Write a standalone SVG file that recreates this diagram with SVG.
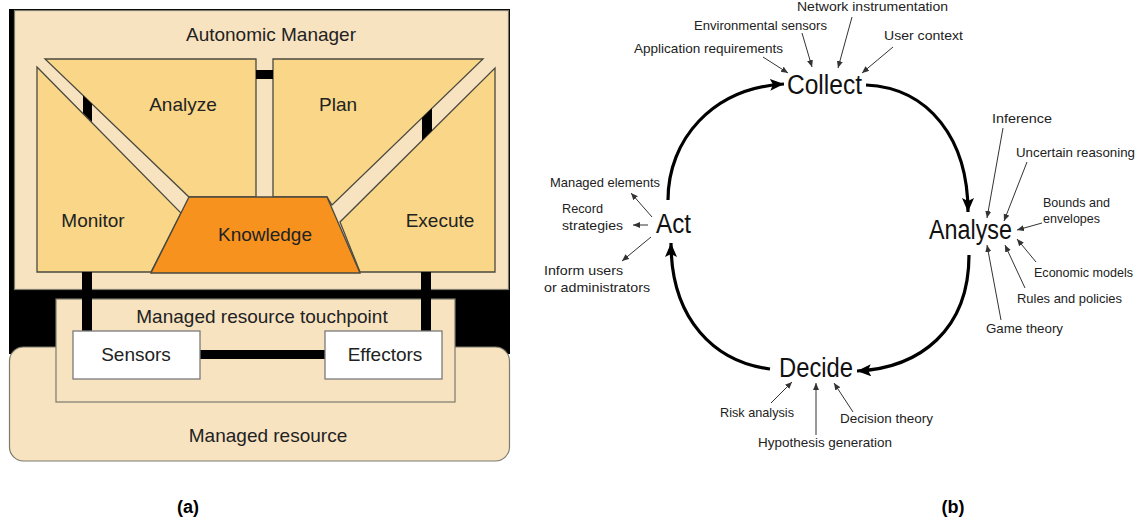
<svg xmlns="http://www.w3.org/2000/svg" width="1141" height="520" viewBox="0 0 1141 520">
  <style>
    .panel { fill: #F8E3C1; stroke: #7a7a6e; stroke-width: 1.2; }
    .block { fill: #F9D688; stroke: #4a4a40; stroke-width: 1.3; }
    .know { fill: #F7921F; stroke: #4a4a40; stroke-width: 1.3; }
    .white { fill: #ffffff; stroke: #7a7a7a; stroke-width: 1.3; }
    .lbl { font-family: "Liberation Sans", Arial, sans-serif; font-size: 19px; fill: #222; text-anchor: middle; }
    .sm { font-family: "Liberation Sans", Arial, sans-serif; font-size: 13px; fill: #222; }
    .big { font-family: "Liberation Sans", Arial, sans-serif; font-size: 27px; fill: #111; }
    .cap { font-family: "Liberation Sans", Arial, sans-serif; font-size: 18px; font-weight: bold; fill: #000; text-anchor: middle; }
    .thin { fill: none; stroke: #333; stroke-width: 1; marker-end: url(#small); }
    .arc { fill: none; stroke: #000; stroke-width: 3.2; marker-end: url(#big); }
  </style>
  <defs>
    <marker id="small" markerUnits="userSpaceOnUse" markerWidth="8" markerHeight="7" refX="7" refY="3" orient="auto">
      <path d="M0,0 L7,3 L0,6 Z" fill="#333"/>
    </marker>
    <marker id="big" markerUnits="userSpaceOnUse" markerWidth="16" markerHeight="13" refX="14" refY="6" orient="auto">
      <path d="M0,0 L14,6 L0,12 L3,6 Z" fill="#000"/>
    </marker>
  </defs>

  <rect width="1141" height="520" fill="#ffffff"/>

  <!-- (a) autonomic manager architecture -->
  <g id="backdrop">
    <rect x="9" y="9" width="501" height="345" fill="#000"/>
  </g>
  <g id="autonomic-manager">
    <rect class="panel" x="14.5" y="10.5" width="494" height="279"/>
    <text class="lbl" x="271" y="41">Autonomic Manager</text>
  </g>
  <g id="monitor">
    <polygon class="block" points="37,67 181,213 151,272 37,272"/>
    <text class="lbl" x="93" y="227">Monitor</text>
  </g>
  <g id="analyze">
    <polygon class="block" points="45,59 256,59 256,197 189,197"/>
    <text class="lbl" x="183" y="111">Analyze</text>
  </g>
  <g id="plan">
    <polygon class="block" points="273,59 483,59 332,205 327,197 273,197"/>
    <text class="lbl" x="338" y="111">Plan</text>
  </g>
  <g id="execute">
    <polygon class="block" points="495,68 495,272 360,272 340,222"/>
    <text class="lbl" x="440" y="227">Execute</text>
  </g>
  <g id="knowledge">
    <polygon class="know" points="189,197 327,197 360,273 151,273"/>
    <text class="lbl" x="265" y="241">Knowledge</text>
  </g>
  <g id="managed-resource">
    <rect class="panel" x="9.5" y="347" width="500" height="114" rx="14" ry="14"/>
    <text class="lbl" x="268" y="442">Managed resource</text>
  </g>
  <g id="touchpoint">
    <rect class="panel" x="56" y="299" width="399" height="103"/>
    <text class="lbl" x="262" y="323">Managed resource touchpoint</text>
  </g>
  <g id="links-a">
    <rect x="256" y="70" width="17" height="9" fill="#000"/>
    <polygon points="83,95.4 92,104 92,122 83,113" fill="#000"/>
    <polygon points="422,118 432,108.3 432,130.6 422,140.5" fill="#000"/>
    <rect x="82" y="272" width="10" height="60" fill="#000"/>
    <rect x="421" y="272" width="10" height="60" fill="#000"/>
    <rect x="199" y="350" width="127" height="9" fill="#000"/>
  </g>
  <g id="sensors">
    <rect class="white" x="73" y="331" width="127" height="48"/>
    <text class="lbl" x="136" y="361">Sensors</text>
  </g>
  <g id="effectors">
    <rect class="white" x="325" y="331" width="117" height="48"/>
    <text class="lbl" x="385" y="361">Effectors</text>
  </g>

  <!-- (b) collect / analyse / decide / act cycle -->
  <g id="cycle-connectors">
    <path class="arc" d="M668,200 C668,140 712,88 784,84"/>
    <path class="arc" d="M866,85 C930,88 968,140 968,212"/>
    <path class="arc" d="M969,255 C969,330 920,368 857,371"/>
    <path class="arc" d="M770,369 C715,362 671,320 671,243"/>

    <line class="thin" x1="763" y1="57" x2="788" y2="73"/>
    <line class="thin" x1="802" y1="33" x2="812" y2="67"/>
    <line class="thin" x1="852" y1="17" x2="838" y2="68"/>
    <line class="thin" x1="893" y1="47" x2="862" y2="73"/>

    <line class="thin" x1="1003" y1="128" x2="987" y2="218"/>
    <line class="thin" x1="1027" y1="162" x2="1004" y2="221"/>
    <line class="thin" x1="1042" y1="223" x2="1017" y2="230"/>
    <line class="thin" x1="1036" y1="262" x2="1017" y2="239"/>
    <line class="thin" x1="1025" y1="288" x2="1005" y2="245"/>
    <line class="thin" x1="1001" y1="320" x2="987" y2="245"/>

    <line class="thin" x1="771" y1="403" x2="792" y2="382"/>
    <line class="thin" x1="816" y1="435" x2="816" y2="383"/>
    <line class="thin" x1="853" y1="412" x2="834" y2="383"/>

    <line class="thin" x1="652" y1="217" x2="631" y2="193"/>
    <line class="thin" x1="648" y1="225" x2="633" y2="225"/>
    <line class="thin" x1="651" y1="237" x2="622" y2="261"/>
  </g>

  <g id="collect">
    <text class="big" x="787" y="94" textLength="75" lengthAdjust="spacingAndGlyphs">Collect</text>
    <text class="sm" x="797" y="11" textLength="151" lengthAdjust="spacingAndGlyphs">Network instrumentation</text>
    <text class="sm" x="694" y="30" textLength="133" lengthAdjust="spacingAndGlyphs">Environmental sensors</text>
    <text class="sm" x="634" y="53" textLength="149" lengthAdjust="spacingAndGlyphs">Application requirements</text>
    <text class="sm" x="884" y="40" textLength="79" lengthAdjust="spacingAndGlyphs">User context</text>
  </g>
  <g id="analyse">
    <text class="big" x="929" y="239" textLength="83" lengthAdjust="spacingAndGlyphs">Analyse</text>
    <text class="sm" x="992" y="123" textLength="60" lengthAdjust="spacingAndGlyphs">Inference</text>
    <text class="sm" x="1016" y="157" textLength="119" lengthAdjust="spacingAndGlyphs">Uncertain reasoning</text>
    <text class="sm" x="1043" y="207" textLength="67" lengthAdjust="spacingAndGlyphs">Bounds and</text>
    <text class="sm" x="1043" y="223" textLength="57" lengthAdjust="spacingAndGlyphs">envelopes</text>
    <text class="sm" x="1034" y="277" textLength="99" lengthAdjust="spacingAndGlyphs">Economic models</text>
    <text class="sm" x="1017" y="303" textLength="105" lengthAdjust="spacingAndGlyphs">Rules and policies</text>
    <text class="sm" x="986" y="333" textLength="77" lengthAdjust="spacingAndGlyphs">Game theory</text>
  </g>
  <g id="decide">
    <text class="big" x="779" y="377" textLength="74" lengthAdjust="spacingAndGlyphs">Decide</text>
    <text class="sm" x="720" y="417" textLength="74" lengthAdjust="spacingAndGlyphs">Risk analysis</text>
    <text class="sm" x="840" y="423" textLength="93" lengthAdjust="spacingAndGlyphs">Decision theory</text>
    <text class="sm" x="758" y="447" textLength="134" lengthAdjust="spacingAndGlyphs">Hypothesis generation</text>
  </g>
  <g id="act">
    <text class="big" x="656" y="233" textLength="35" lengthAdjust="spacingAndGlyphs">Act</text>
    <text class="sm" x="550" y="187" textLength="110" lengthAdjust="spacingAndGlyphs">Managed elements</text>
    <text class="sm" x="562" y="213" textLength="41" lengthAdjust="spacingAndGlyphs">Record</text>
    <text class="sm" x="562" y="230" textLength="61" lengthAdjust="spacingAndGlyphs">strategies</text>
    <text class="sm" x="544" y="275" textLength="79" lengthAdjust="spacingAndGlyphs">Inform users</text>
    <text class="sm" x="544" y="292" textLength="106" lengthAdjust="spacingAndGlyphs">or administrators</text>
  </g>

  <g id="captions">
    <text class="cap" x="188" y="513">(a)</text>
    <text class="cap" x="953" y="513">(b)</text>
  </g>
</svg>
